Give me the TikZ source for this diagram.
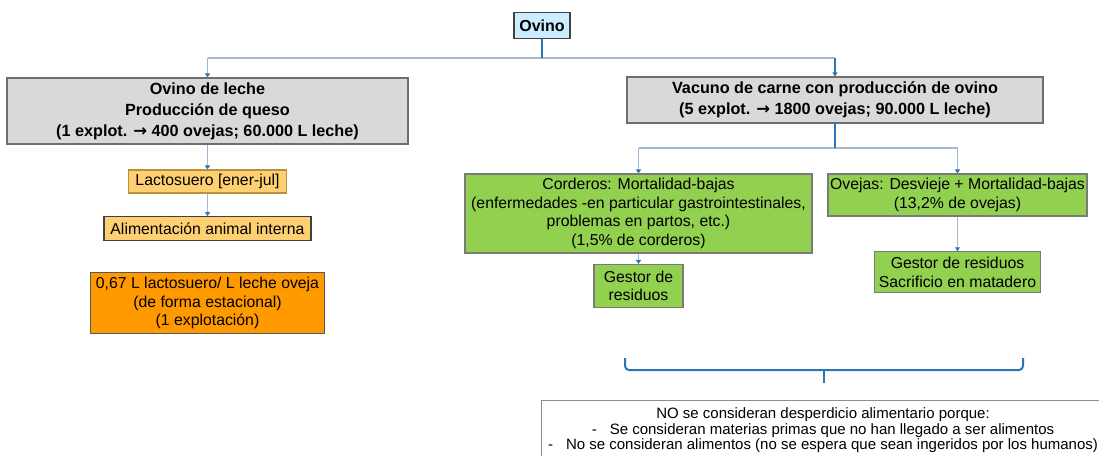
\documentclass[tikz,border=0pt]{standalone}
\usepackage{fontspec}
\setmainfont{Liberation Sans}
\newfontfamily\arrowfont{DejaVu Sans}
\usetikzlibrary{arrows.meta}
\definecolor{ovinofill}{HTML}{CCECFF}
\definecolor{grayfill}{HTML}{D9D9D9}
\definecolor{grayline}{HTML}{6E6E6E}
\definecolor{lightorange}{HTML}{FFD071}
\definecolor{lactoline}{HTML}{B8913F}
\definecolor{darkorange}{HTML}{FF9900}
\definecolor{greenfill}{HTML}{92D050}
\definecolor{greenline}{HTML}{7A7A7A}
\definecolor{connlight}{HTML}{A3B8CE}
\definecolor{conndark}{HTML}{2E75B6}
\definecolor{notegray}{HTML}{8C8C8C}
\newcommand{\rarr}{{\arrowfont\fontsize{16.5}{16}\selectfont →}}
\begin{document}
\begin{tikzpicture}[x=1pt,y=-1pt,
  box/.style={draw, line width=1.1pt, inner sep=0pt, align=center,
    font=\fontsize{15.8}{18.5}\selectfont},
  topbox/.style={box, fill=ovinofill, draw=black!75, font=\bfseries\fontsize{16}{18}\selectfont},
  graybox/.style={box, fill=grayfill, draw=grayline, font=\bfseries\fontsize{16.2}{21}\selectfont},
  lightbox/.style={box, fill=lightorange},
  orangebox/.style={box, fill=darkorange, draw=black!65},
  greenbox/.style={box, fill=greenfill, draw=greenline},
  notebox/.style={draw=notegray, line width=1pt, fill=white, inner xsep=0pt, inner ysep=7pt,
    align=center, font=\fontsize{15}{15.8}\selectfont},
  lt/.style={draw=connlight, line width=1.7pt},
  dk/.style={draw=conndark, line width=1.3pt},
  tip/.style={-{Triangle[length=4pt,width=5pt,color=conndark]}},
  bracket/.style={draw=conndark, line width=2pt, rounded corners=4pt}
]
\useasboundingbox (0,0) rectangle (1099,455);
\clip (0,0) rectangle (1099,455);

% nodes
\node[topbox, minimum width=56pt, minimum height=26pt] (ovino) at (542,25.5) {Ovino};
\node[graybox, minimum width=401pt, minimum height=66pt] (leche) at (207.5,111)
  {Ovino de leche\\Producción de queso\\(1 explot. \rarr{} 400 ovejas; 60.000 L leche)};
\node[graybox, minimum width=416pt, minimum height=46pt] (vacuno) at (835,100)
  {Vacuno de carne con producción de ovino\\(5 explot. \rarr{} 1800 ovejas; 90.000 L leche)};
\node[lightbox, draw=lactoline, minimum width=158pt, minimum height=23pt] (lacto) at (207.5,181.5)
  {Lactosuero [ener-jul]};
\node[lightbox, draw=black!75, minimum width=207pt, minimum height=24pt] (alim) at (207.5,228.7)
  {Alimentación animal interna};
\node[orangebox, minimum width=234pt, minimum height=61pt] (ratio) at (207.5,303)
  {0,67 L lactosuero/ L leche oveja\\(de forma estacional)\\(1 explotación)};
\node[greenbox, minimum width=347pt, minimum height=79pt] (corderos) at (638.5,213.5)
  {Corderos: Mortalidad-bajas\\(enfermedades -en particular gastrointestinales,\\problemas en partos, etc.)\\(1,5\% de corderos)};
\node[greenbox, minimum width=259pt, minimum height=42pt] (ovejas) at (957.5,195)
  {Ovejas: Desvieje + Mortalidad-bajas\\(13,2\% de ovejas)};
\node[greenbox, minimum width=89pt, minimum height=43pt] (gestorl) at (638.5,286)
  {Gestor de\\residuos};
\node[greenbox, minimum width=166pt, minimum height=41pt] (gestorr) at (957.5,272.3)
  {Gestor de residuos\\Sacrificio en matadero};
\node[notebox, minimum width=564pt, anchor=north] (note) at (823,400)
  {NO se consideran desperdicio alimentario porque:\\
   -\hspace{13pt}Se consideran materias primas que no han llegado a ser alimentos\\
   -\hspace{13pt}No se consideran alimentos (no se espera que sean ingeridos por los humanos)\\
   \mbox{}};

% connectors
\coordinate (j1) at (542,58);
\coordinate (jl) at (207.5,58);
\coordinate (jr) at (835,58);
\draw[lt] (jl) -- (jr);
\draw[dk] (ovino.south) -- (j1);
\draw[lt,tip] (jl) -- (leche.north);
\draw[dk,tip] (jr) -- (vacuno.north);
\draw[lt,tip] (leche.south) -- (lacto.north);
\draw[lt,tip] (lacto.south) -- (alim.north);

\coordinate (k1) at (835,148);
\coordinate (kl) at (638.5,148);
\coordinate (kr) at (957.5,148);
\draw[lt] (kl) -- (kr);
\draw[dk] (vacuno.south) -- (k1);
\draw[lt,tip] (kl) -- (corderos.north);
\draw[lt,tip] (kr) -- (ovejas.north);
\draw[lt,tip] (corderos.south) -- (gestorl.north);
\draw[lt,tip] (ovejas.south) -- (gestorr.north);

% bracket
\coordinate (bl) at (625,358);
\coordinate (br) at (1023,358);
\coordinate (bm) at (824,370);
\coordinate (bt) at (824,383);
\draw[bracket] (bl) |- (br |- bm) -- (br);
\draw[bracket] (bm) -- (bt);
\end{tikzpicture}
\end{document}
